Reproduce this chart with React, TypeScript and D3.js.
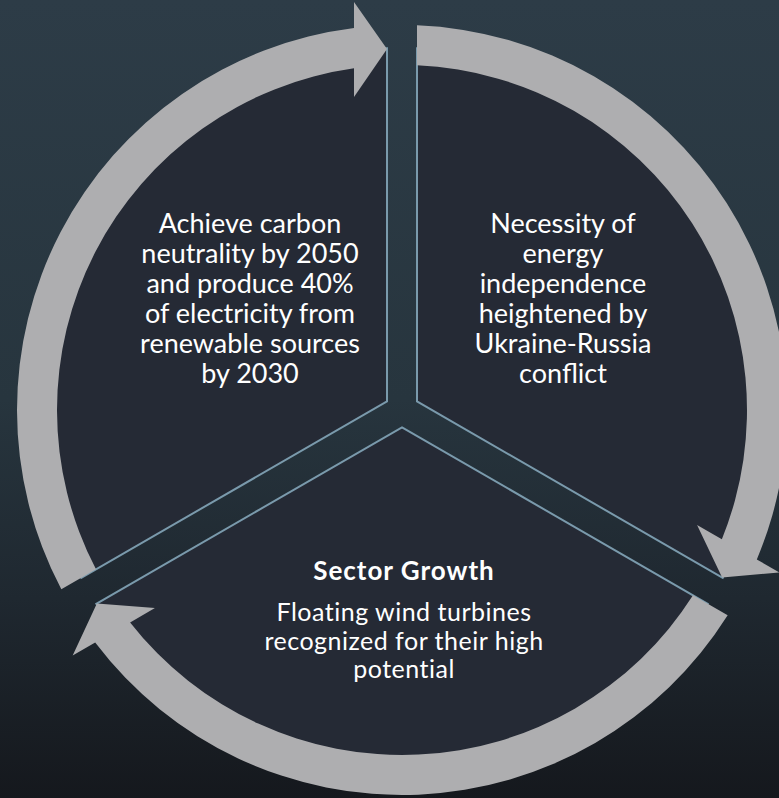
import React from "react";
import * as d3 from "d3";

// Cycle layout: three segments separated by gaps, wrapped by curved arrows.
const gapAngles = [-90, 30, 150]; // degrees, screen orientation (clockwise positive)

const sectorTitles = ["", "Sector Growth", ""];
const sectorLines = [
  ["Necessity of", "energy", "independence", "heightened by", "Ukraine-Russia", "conflict"],
  ["Floating wind turbines", "recognized for their high", "potential"],
  ["Achieve carbon", "neutrality by 2050", "and produce 40%", "of electricity from", "renewable sources", "by 2030"],
];

const W = 779;
const H = 798;
const CX = 402;
const CY = 410;
const GAP = 15; // half width of the gap between segments
const R_SECTOR = 362;
const R_IN = 345;
const R_OUT = 385;
const HEAD_IN = 313;
const HEAD_OUT = 408;
const HEAD_TIP = 361;
const HEAD_BACK = 48;

const rad = (deg: number) => (deg * Math.PI) / 180;

// point expressed in a gap's frame: s along the gap direction, t across it (clockwise side positive)
function framePt(thetaDeg: number, s: number, t: number): [number, number] {
  const a = rad(thetaDeg);
  const ux = Math.cos(a), uy = Math.sin(a);
  const nx = -Math.sin(a), ny = Math.cos(a);
  return [CX + s * ux + t * nx, CY + s * uy + t * ny];
}

// point on circle of radius r lying on the line offset t from a gap
function circlePt(thetaDeg: number, r: number, t: number): [number, number] {
  const a = rad(thetaDeg) + Math.asin(t / r);
  return [CX + r * Math.cos(a), CY + r * Math.sin(a)];
}

function sectorPath(a0: number, a1: number): string {
  const mid = (a0 + a1) / 2;
  const d = GAP / Math.sin(rad(60));
  const v: [number, number] = [CX + d * Math.cos(rad(mid)), CY + d * Math.sin(rad(mid))];
  const p0 = circlePt(a0, R_SECTOR, GAP);
  const p1 = circlePt(a1, R_SECTOR, -GAP);
  const p = d3.path();
  p.moveTo(v[0], v[1]);
  p.lineTo(p0[0], p0[1]);
  p.arc(CX, CY, R_SECTOR, Math.atan2(p0[1] - CY, p0[0] - CX), Math.atan2(p1[1] - CY, p1[0] - CX), false);
  p.closePath();
  return p.toString();
}

function arrowPath(a0: number, a1: number): string {
  const ang = (q: [number, number]) => Math.atan2(q[1] - CY, q[0] - CX);
  const oTail = circlePt(a0, R_OUT, GAP);
  const oBack = circlePt(a1, R_OUT, -HEAD_BACK);
  const iBack = circlePt(a1, R_IN, -HEAD_BACK);
  const iTail = circlePt(a0, R_IN, GAP);
  const hOut = framePt(a1, HEAD_OUT, -HEAD_BACK);
  const tip = framePt(a1, HEAD_TIP, -GAP);
  const hIn = framePt(a1, HEAD_IN, -HEAD_BACK);
  const p = d3.path();
  p.moveTo(oTail[0], oTail[1]);
  p.arc(CX, CY, R_OUT, ang(oTail), ang(oBack), false);
  p.lineTo(hOut[0], hOut[1]);
  p.lineTo(tip[0], tip[1]);
  p.lineTo(hIn[0], hIn[1]);
  p.lineTo(iBack[0], iBack[1]);
  p.arc(CX, CY, R_IN, ang(iBack), ang(iTail), true);
  p.closePath();
  return p.toString();
}

// text placement for each segment: centre x, first baseline, line step, size, tracking
const textLayout = [
  { x: 563, y: 233, step: 30, size: 27, track: 0 },
  { x: 404, y: 621, step: 28.5, size: 25, track: 0.5 },
  { x: 250, y: 233, step: 30, size: 27, track: 0 },
];

const FONT = "Lato, 'Open Sans', sans-serif";

export default function App() {
  const segs = gapAngles.map((a0, i) => {
    const a1 = i === gapAngles.length - 1 ? gapAngles[0] + 360 : gapAngles[i + 1];
    return { a0, a1 };
  });
  return (
    <svg
      width={W}
      height={H}
      viewBox={`0 0 ${W} ${H}`}
      style={{ position: "absolute", left: 0, top: 0, display: "block" }}
    >
      <defs>
        <linearGradient id="bg" x1="0" y1="0" x2="0" y2="1">
          <stop offset="0" stopColor="#2d3c47" />
          <stop offset="0.5" stopColor="#27353e" />
          <stop offset="0.75" stopColor="#1f2830" />
          <stop offset="1" stopColor="#15181d" />
        </linearGradient>
      </defs>
      <rect x={0} y={0} width={W} height={H} fill="url(#bg)" />
      {segs.map((s, i) => (
        <path key={`s${i}`} d={sectorPath(s.a0, s.a1)} fill="#252a35" stroke="#7a9aac" strokeWidth={2} />
      ))}
      {segs.map((s, i) => (
        <path key={`a${i}`} d={arrowPath(s.a0, s.a1)} fill="#aeaeb0" />
      ))}
      {segs.map((s, i) => {
        const L = textLayout[i];
        return (
          <g key={`t${i}`} fontFamily={FONT} fill="#ffffff" textAnchor="middle">
            {sectorTitles[i] && (
              <text x={L.x} y={580} fontSize={26} fontWeight={700} letterSpacing={1}>
                {sectorTitles[i]}
              </text>
            )}
            {sectorLines[i].map((line, j) => (
              <text key={j} x={L.x} y={L.y + j * L.step} fontSize={L.size} letterSpacing={L.track}>
                {line}
              </text>
            ))}
          </g>
        );
      })}
    </svg>
  );
}
